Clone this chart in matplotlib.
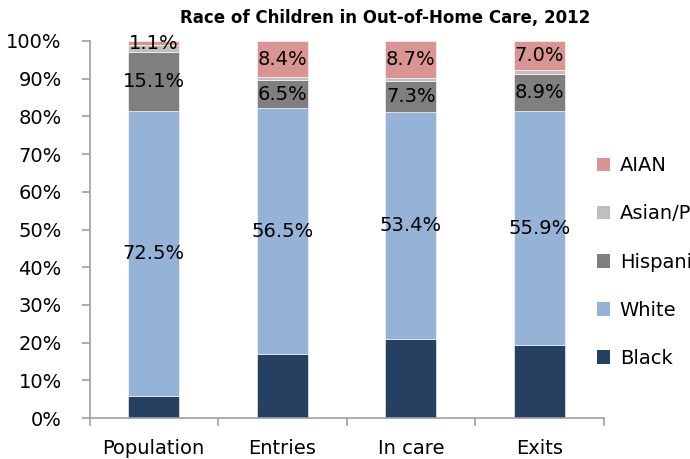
import numpy as np
import matplotlib.pyplot as plt
from matplotlib.patches import Patch

plt.rcParams['font.family'] = ['DejaVu Sans']

categories = ['Population', 'Entries', 'In care', 'Exits']
series = ['Black', 'White', 'Hispanic', 'Asian/PI', 'AIAN']
black = [5.6, 14.8, 18.7, 17.4]
white = [72.5, 56.5, 53.4, 55.9]
hispanic = [15.1, 6.5, 7.3, 8.9]
asian = [1.7, 0.6, 0.6, 0.9]
aian = [1.1, 8.4, 8.7, 7.0]
colors = ['#254061', '#95B3D7', '#7F7F7F', '#BFBFBF', '#D99594']
# which series get a value label
labelled = [False, True, True, False, True]

raw = np.array([black, white, hispanic, asian, aian])
share = raw / raw.sum(axis=0) * 100

fig = plt.figure(figsize=(6.9, 4.59), dpi=100)
ax = fig.add_axes([89.5 / 690, 41 / 459, 514 / 690, 377 / 459])

x = np.arange(len(categories))
bottom = np.zeros(len(categories))
for i, name in enumerate(series):
    ax.bar(x, share[i], 0.4, bottom=bottom, color=colors[i],
           edgecolor='white', linewidth=0.4)
    if labelled[i]:
        for j in range(len(categories)):
            ax.text(x[j], bottom[j] + share[i][j] / 2, '%.1f%%' % raw[i][j],
                    ha='center', va='center', fontsize=14, color='black')
    bottom += share[i]

ax.set_xlim(-0.5, len(categories) - 0.5)
ax.set_ylim(0, 100)
ax.set_yticks(np.arange(0, 101, 10))
ax.set_yticklabels(['%d%%' % v for v in range(0, 101, 10)], fontsize=14)
ax.set_xticks(x)
ax.set_xticklabels(categories, fontsize=14)
ax.set_xticks(np.arange(-0.5, len(categories), 1), minor=True)
ax.tick_params(axis='x', which='major', length=0, pad=15)
ax.tick_params(axis='x', which='minor', length=6, color='#A0A0A0', width=1.2)
ax.tick_params(axis='y', length=6, color='#A0A0A0', width=1.2, pad=14)
for s in ['top', 'right']:
    ax.spines[s].set_visible(False)
for s in ['left', 'bottom']:
    ax.spines[s].set_color('#A0A0A0')
    ax.spines[s].set_linewidth(1.2)

fig.text(385 / 690, 1 - 18 / 459, 'Race of Children in Out-of-Home Care, 2012',
         ha='center', va='center', fontsize=12, fontweight='bold')

handles = [Patch(facecolor=colors[i]) for i in range(len(series) - 1, -1, -1)]
fig.legend(handles, series[::-1], loc='center left',
           bbox_to_anchor=(579 / 690, 1 - 262 / 459), frameon=False,
           fontsize=14, labelspacing=1.5, handlelength=0.7, handleheight=0.7,
           handletextpad=0.5)

fig.savefig('out.png')
